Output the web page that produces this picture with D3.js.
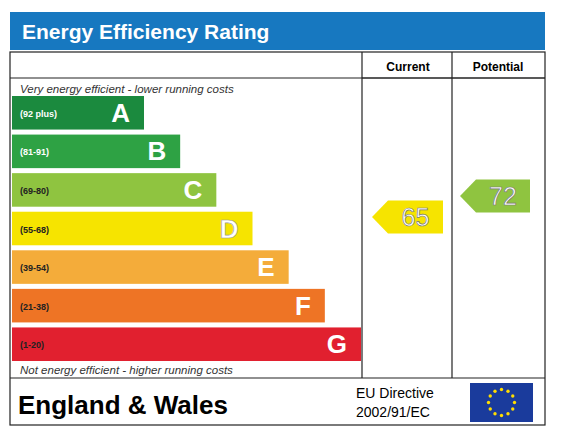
<!DOCTYPE html>
<html><head><meta charset="utf-8">
<script src="https://cdn.jsdelivr.net/npm/d3@7"></script>
<style>body{margin:0;background:#fff}</style></head>
<body><svg id="c" width="575" height="437"></svg>
<script>
const letters = ["A","B","C","D","E","F","G"];
const ranges = ["(92 plus)","(81-91)","(69-80)","(55-68)","(39-54)","(21-38)","(1-20)"];
const widthRank = [1,2,3,4,5,6,7];
const colors = ["#1b8a3e","#2ea244","#8fc440","#f6e400","#f4ac3a","#ee7425","#e1202f"];
const currentScore = 65, potentialScore = 72;
const currentColor = "#f6e400", potentialColor = "#8fc440";

const svg = d3.select("#c");
const F = "Liberation Sans, Arial, sans-serif";
svg.append("rect").attr("x",10).attr("y",12).attr("width",535).attr("height",38).attr("fill","#1778c0");
svg.append("text").attr("x",22).attr("y",39).attr("fill","#fff").attr("font-family",F).attr("font-weight","bold").attr("font-size",21).text("Energy Efficiency Rating");
const g = svg.append("g").attr("stroke","#222").attr("stroke-width",1.2).attr("fill","none");
g.append("rect").attr("x",10).attr("y",52).attr("width",535).attr("height",373);
[[10,545,78],[362,545,78],[10,545,378]].forEach(([x1,x2,y])=>g.append("line").attr("x1",x1).attr("x2",x2).attr("y1",y).attr("y2",y));
[362,452].forEach(x=>g.append("line").attr("x1",x).attr("x2",x).attr("y1",52).attr("y2",378));
svg.append("text").attr("x",408).attr("y",71).attr("text-anchor","middle").attr("font-family",F).attr("font-weight","bold").attr("font-size",12).text("Current");
svg.append("text").attr("x",498).attr("y",71).attr("text-anchor","middle").attr("font-family",F).attr("font-weight","bold").attr("font-size",12).text("Potential");
svg.append("text").attr("x",20).attr("y",93).attr("font-family",F).attr("font-style","italic").attr("font-size",11.5).attr("fill","#333").text("Very energy efficient - lower running costs");
svg.append("text").attr("x",20).attr("y",374).attr("font-family",F).attr("font-style","italic").attr("font-size",11.5).attr("fill","#333").text("Not energy efficient - higher running costs");

const y = d3.scaleBand().domain(letters).range([96,361]).paddingInner(0.13);
const x = d3.scaleLinear().domain([1,7]).range([144,361]);
const bars = svg.selectAll("g.bar").data(letters).join("g");
bars.append("rect").attr("x",12).attr("y",d=>y(d)).attr("height",y.bandwidth())
  .attr("width",(d,i)=>x(widthRank[i])-12).attr("fill",(d,i)=>colors[i]);
bars.append("text").attr("x",20).attr("y",d=>y(d)+y.bandwidth()/2+4).attr("font-family",F).attr("font-weight","bold").attr("font-size",9)
  .attr("fill",(d,i)=>i<2?"#fff":"#222").text((d,i)=>ranges[i]);
bars.append("text").attr("x",(d,i)=>x(widthRank[i])-14).attr("y",d=>y(d)+y.bandwidth()/2+9).attr("text-anchor","end")
  .attr("font-family",F).attr("font-weight","bold").attr("font-size",26).attr("fill","#fff").attr("stroke",(d,i)=>i===3?"#999":"none").attr("stroke-width",0.6).text(d=>d);

const sy = d3.scaleLinear().domain([72,65]).range([196,217]);
function arrow(score,x0,x1,color){
  const c=sy(score), h=16.5;
  svg.append("path").attr("d",`M${x0},${c} L${x0+16},${c-h} L${x1},${c-h} L${x1},${c+h} L${x0+16},${c+h} Z`).attr("fill",color);
  svg.append("text").attr("x",(x0+x1)/2+8).attr("y",c+9).attr("text-anchor","middle").attr("font-family",F).attr("font-size",25)
    .attr("fill","#fff").attr("stroke","#777").attr("stroke-width",0.7).text(score);
}
arrow(currentScore,372,443,currentColor);
arrow(potentialScore,460,530,potentialColor);

svg.append("text").attr("x",18).attr("y",414).attr("font-family",F).attr("font-weight","bold").attr("font-size",26).text("England & Wales");
svg.append("text").attr("x",356).attr("y",398).attr("font-family",F).attr("font-size",14).text("EU Directive");
svg.append("text").attr("x",356).attr("y",417).attr("font-family",F).attr("font-size",14).text("2002/91/EC");
svg.append("rect").attr("x",470).attr("y",383).attr("width",63).attr("height",39).attr("fill","#1a3b9c");
d3.range(12).forEach(i=>{const a=i/12*2*Math.PI;
  svg.append("circle").attr("cx",501.5+13*Math.cos(a)).attr("cy",402.5+13*Math.sin(a)).attr("r",1.7).attr("fill","#ffdd00");});
</script></body></html>
